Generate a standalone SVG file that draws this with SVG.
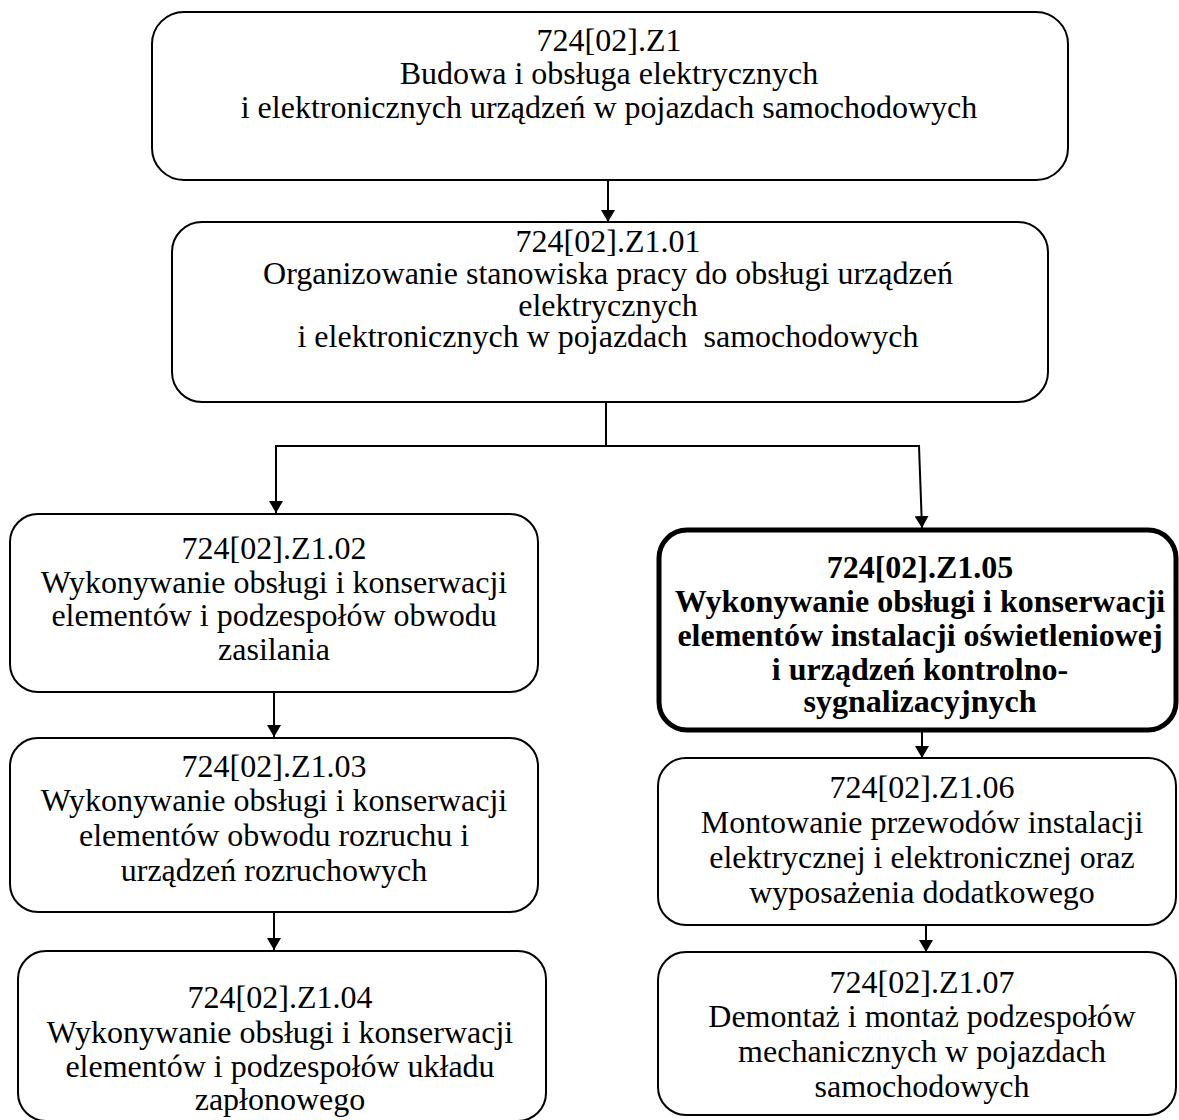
<svg xmlns="http://www.w3.org/2000/svg" width="1179" height="1120" viewBox="0 0 1179 1120">
<style>
.box{fill:#fff;stroke:#000;stroke-width:2}
.bold{fill:#fff;stroke:#000;stroke-width:5}
text{font-family:"Liberation Serif","Times New Roman",serif;font-size:32px;fill:#000;text-anchor:middle;white-space:pre}
.b{font-weight:bold}
.ln{fill:none;stroke:#000;stroke-width:2}
</style>
<defs>
<marker id="ah" viewBox="0 0 12 14" refX="12" refY="7" markerWidth="12" markerHeight="14" markerUnits="userSpaceOnUse" orient="auto">
<path d="M0,0 L12,7 L0,14 Z" fill="#000"/>
</marker>
</defs>
<rect width="1179" height="1120" fill="#fff"/>
<g id="connectors">
<line class="ln" x1="608" y1="180" x2="608" y2="222" marker-end="url(#ah)"/>
<line class="ln" x1="606" y1="402" x2="606" y2="446"/>
<line class="ln" x1="275" y1="446" x2="920" y2="446"/>
<line class="ln" x1="276" y1="446" x2="276" y2="513" marker-end="url(#ah)"/>
<line class="ln" x1="919" y1="446" x2="922" y2="528" marker-end="url(#ah)"/>
<line class="ln" x1="274" y1="693" x2="274" y2="737" marker-end="url(#ah)"/>
<line class="ln" x1="274" y1="913" x2="274" y2="950" marker-end="url(#ah)"/>
<line class="ln" x1="922" y1="732" x2="922" y2="758" marker-end="url(#ah)"/>
<line class="ln" x1="926" y1="926" x2="926" y2="952" marker-end="url(#ah)"/>
</g>
<g id="n1">
<rect class="box" x="152" y="12" width="916" height="168" rx="32"/>
<text x="609" y="51">724[02].Z1</text>
<text x="609" y="84">Budowa i obsługa elektrycznych</text>
<text x="609" y="118">i elektronicznych urządzeń w pojazdach samochodowych</text>
</g>
<g id="n2">
<rect class="box" x="172" y="222" width="876" height="180" rx="30"/>
<text x="608" y="252">724[02].Z1.01</text>
<text x="608" y="284">Organizowanie stanowiska pracy do obsługi urządzeń</text>
<text x="608" y="316">elektrycznych</text>
<text x="608" y="347">i elektronicznych w pojazdach  samochodowych</text>
</g>
<g id="n3">
<rect class="box" x="10" y="514" width="528" height="178" rx="28"/>
<text x="274" y="559">724[02].Z1.02</text>
<text x="274" y="593">Wykonywanie obsługi i konserwacji</text>
<text x="274" y="626">elementów i podzespołów obwodu</text>
<text x="274" y="660">zasilania</text>
</g>
<g id="n4">
<rect class="box" x="10" y="738" width="528" height="174" rx="28"/>
<text x="274" y="777">724[02].Z1.03</text>
<text x="274" y="811">Wykonywanie obsługi i konserwacji</text>
<text x="274" y="846">elementów obwodu rozruchu i</text>
<text x="274" y="881">urządzeń rozruchowych</text>
</g>
<g id="n5">
<rect class="box" x="18" y="951" width="528" height="170" rx="28"/>
<text x="280" y="1008">724[02].Z1.04</text>
<text x="280" y="1043">Wykonywanie obsługi i konserwacji</text>
<text x="280" y="1077">elementów i podzespołów układu</text>
<text x="280" y="1110">zapłonowego</text>
</g>
<g id="n6">
<rect class="bold" x="659" y="530" width="517" height="200" rx="28"/>
<text class="b" x="920" y="578">724[02].Z1.05</text>
<text class="b" x="920" y="612">Wykonywanie obsługi i konserwacji</text>
<text class="b" x="920" y="646">elementów instalacji oświetleniowej</text>
<text class="b" x="920" y="680">i urządzeń kontrolno-</text>
<text class="b" x="920" y="712">sygnalizacyjnych</text>
</g>
<g id="n7">
<rect class="box" x="658" y="758" width="518" height="167" rx="28"/>
<text x="922" y="798">724[02].Z1.06</text>
<text x="922" y="833">Montowanie przewodów instalacji</text>
<text x="922" y="868">elektrycznej i elektronicznej oraz</text>
<text x="922" y="903">wyposażenia dodatkowego</text>
</g>
<g id="n8">
<rect class="box" x="658" y="952" width="518" height="163" rx="28"/>
<text x="922" y="993">724[02].Z1.07</text>
<text x="922" y="1027">Demontaż i montaż podzespołów</text>
<text x="922" y="1062">mechanicznych w pojazdach</text>
<text x="922" y="1097">samochodowych</text>
</g>
</svg>
